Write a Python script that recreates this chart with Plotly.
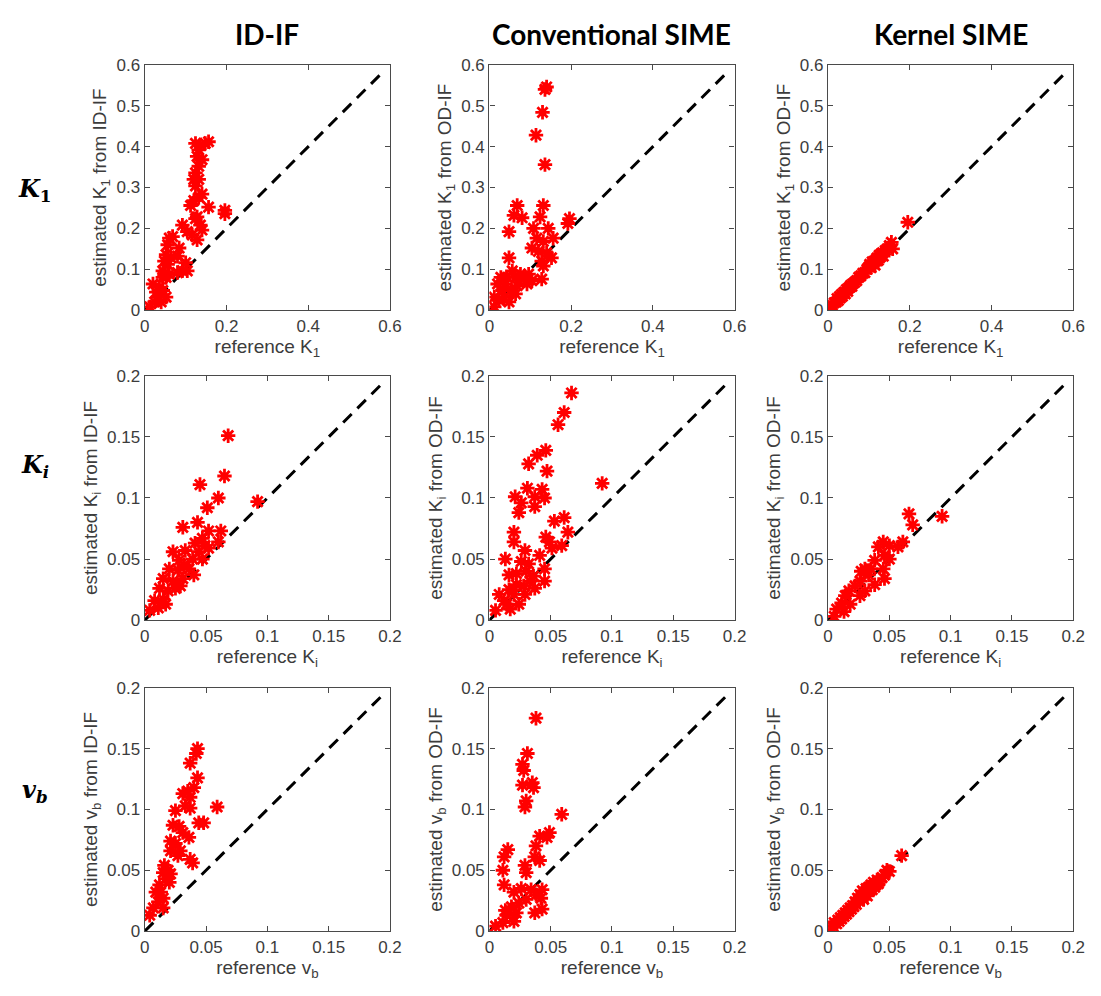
import plotly.graph_objects as go
from plotly.subplots import make_subplots

# ---- K1 (row 1) ----
idif_k1_ref = [0.012, 0.024, 0.032, 0.020, 0.036, 0.044, 0.028, 0.040, 0.052, 0.044,
               0.044, 0.048, 0.052, 0.056, 0.060, 0.068, 0.056, 0.064, 0.060, 0.052,
               0.084, 0.080, 0.080, 0.092, 0.100, 0.104, 0.092, 0.104,
               0.116, 0.128, 0.124, 0.120, 0.112, 0.132, 0.140, 0.128, 0.136, 0.140,
               0.156, 0.196, 0.196,
               0.124, 0.132, 0.124, 0.132, 0.128, 0.132, 0.124, 0.136, 0.148, 0.156,
               0.140, 0.120]
idif_k1_est = [0.008, 0.020, 0.032, 0.064, 0.056, 0.080, 0.044, 0.020, 0.032, 0.048,
               0.096, 0.120, 0.136, 0.160, 0.176, 0.180, 0.112, 0.128, 0.088, 0.080,
               0.152, 0.132, 0.092, 0.096, 0.116, 0.096, 0.208, 0.192,
               0.184, 0.172, 0.224, 0.268, 0.256, 0.276, 0.284, 0.228, 0.208, 0.196,
               0.252, 0.236, 0.244,
               0.304, 0.320, 0.336, 0.352, 0.376, 0.392, 0.408, 0.404, 0.408, 0.412,
               0.368, 0.320]

conv_k1_ref = [0.140, 0.136, 0.130, 0.114, 0.136,
               0.068, 0.132, 0.060, 0.080, 0.196, 0.192, 0.048, 0.124, 0.108, 0.144,
               0.156, 0.116, 0.132, 0.104, 0.120, 0.048, 0.152, 0.128, 0.140, 0.132,
               0.128,
               0.020, 0.032, 0.044, 0.056, 0.064, 0.076, 0.084, 0.092, 0.104, 0.096,
               0.068, 0.052, 0.036, 0.024, 0.012, 0.048, 0.064, 0.040, 0.028, 0.012]
conv_k1_est = [0.546, 0.540, 0.484, 0.428, 0.356,
               0.256, 0.256, 0.232, 0.226, 0.224, 0.212, 0.192, 0.228, 0.200, 0.200,
               0.176, 0.176, 0.168, 0.152, 0.144, 0.128, 0.128, 0.120, 0.140, 0.108,
               0.076,
               0.064, 0.048, 0.080, 0.096, 0.080, 0.088, 0.076, 0.064, 0.072, 0.088,
               0.060, 0.048, 0.032, 0.024, 0.008, 0.020, 0.040, 0.064, 0.080, 0.032]

kern_k1_ref = [0.005, 0.010, 0.015, 0.020, 0.022, 0.025, 0.028, 0.030, 0.033, 0.035,
               0.038, 0.040, 0.042, 0.045, 0.048, 0.050, 0.053, 0.055, 0.058, 0.060,
               0.065, 0.070, 0.075, 0.080, 0.085, 0.090, 0.095, 0.100, 0.102, 0.105,
               0.108, 0.110, 0.113, 0.115, 0.118, 0.120, 0.123, 0.125, 0.128, 0.130,
               0.133, 0.135, 0.140, 0.145, 0.150, 0.155, 0.158, 0.195]
kern_k1_est = [0.006, 0.012, 0.018, 0.020, 0.028, 0.024, 0.033, 0.030, 0.038, 0.034,
               0.042, 0.044, 0.040, 0.050, 0.046, 0.054, 0.056, 0.060, 0.058, 0.064,
               0.068, 0.072, 0.080, 0.084, 0.090, 0.092, 0.100, 0.106, 0.112, 0.104,
               0.118, 0.114, 0.120, 0.110, 0.124, 0.128, 0.122, 0.134, 0.130, 0.138,
               0.140, 0.132, 0.146, 0.150, 0.158, 0.166, 0.150, 0.215]

# ---- Ki (row 2) ----
idif_ki_ref = [0.068, 0.065, 0.045, 0.060, 0.051, 0.092, 0.031, 0.043, 0.052, 0.062,
               0.060, 0.047, 0.041, 0.023, 0.033, 0.044, 0.049, 0.028, 0.039, 0.020,
               0.027, 0.040, 0.015, 0.023, 0.031, 0.012, 0.019, 0.025, 0.008, 0.015,
               0.004, 0.011, 0.017, 0.036, 0.032, 0.047, 0.029, 0.052]
idif_ki_est = [0.151, 0.118, 0.111, 0.100, 0.092, 0.097, 0.076, 0.080, 0.073, 0.073,
               0.064, 0.067, 0.063, 0.056, 0.057, 0.056, 0.061, 0.049, 0.050, 0.042,
               0.041, 0.037, 0.034, 0.032, 0.034, 0.026, 0.024, 0.026, 0.016, 0.017,
               0.008, 0.010, 0.013, 0.042, 0.045, 0.050, 0.028, 0.059]

conv_ki_ref = [0.067, 0.061, 0.056, 0.046, 0.039, 0.032, 0.047, 0.092, 0.031, 0.043,
               0.037, 0.021, 0.026, 0.037, 0.045, 0.024, 0.053, 0.061, 0.064, 0.020,
               0.020, 0.046, 0.049, 0.051, 0.059, 0.029, 0.013, 0.026, 0.032, 0.041,
               0.045, 0.016, 0.022, 0.030, 0.036, 0.045, 0.008, 0.016, 0.022, 0.028,
               0.037, 0.012, 0.017, 0.024, 0.029, 0.005, 0.020, 0.014, 0.033]
conv_ki_est = [0.186, 0.170, 0.160, 0.139, 0.135, 0.128, 0.122, 0.112, 0.108, 0.107,
               0.101, 0.101, 0.096, 0.093, 0.100, 0.088, 0.081, 0.084, 0.072, 0.072,
               0.064, 0.068, 0.064, 0.059, 0.061, 0.057, 0.050, 0.048, 0.046, 0.053,
               0.042, 0.037, 0.038, 0.040, 0.036, 0.032, 0.021, 0.025, 0.029, 0.028,
               0.026, 0.016, 0.009, 0.013, 0.021, 0.008, 0.021, 0.013, 0.032]

kern_ki_ref = [0.066, 0.069, 0.093, 0.061, 0.057, 0.050, 0.045, 0.041, 0.046, 0.038,
               0.045, 0.046, 0.030, 0.027, 0.033, 0.026, 0.022, 0.030, 0.026, 0.017,
               0.014, 0.011, 0.018, 0.007, 0.005, 0.013, 0.038, 0.050, 0.035]
kern_ki_est = [0.087, 0.078, 0.085, 0.064, 0.060, 0.061, 0.064, 0.060, 0.053, 0.049,
               0.042, 0.034, 0.042, 0.040, 0.037, 0.032, 0.028, 0.024, 0.020, 0.024,
               0.020, 0.014, 0.013, 0.009, 0.003, 0.007, 0.029, 0.050, 0.042]

# ---- vb (row 3) ----
idif_vb_ref = [0.043, 0.042, 0.037, 0.043, 0.040, 0.035, 0.031, 0.037, 0.025, 0.033,
               0.037, 0.059, 0.048, 0.044, 0.023, 0.028, 0.031, 0.036, 0.021, 0.025,
               0.021, 0.027, 0.029, 0.037, 0.039, 0.016, 0.015, 0.017, 0.012, 0.009,
               0.013, 0.015, 0.011, 0.007, 0.004, 0.015, 0.020, 0.021, 0.019]
idif_vb_est = [0.150, 0.146, 0.138, 0.126, 0.118, 0.115, 0.113, 0.110, 0.099, 0.103,
               0.101, 0.102, 0.089, 0.089, 0.087, 0.086, 0.081, 0.077, 0.074, 0.072,
               0.066, 0.062, 0.066, 0.059, 0.056, 0.054, 0.048, 0.043, 0.038, 0.032,
               0.032, 0.027, 0.024, 0.019, 0.013, 0.019, 0.040, 0.047, 0.050]

conv_vb_ref = [0.038, 0.031, 0.027, 0.028, 0.027, 0.035, 0.036, 0.030, 0.029, 0.059,
               0.049, 0.047, 0.041, 0.038, 0.015, 0.012, 0.011, 0.029, 0.037, 0.041,
               0.030, 0.012, 0.020, 0.026, 0.034, 0.038, 0.042, 0.043, 0.030, 0.024,
               0.018, 0.013, 0.037, 0.043, 0.020, 0.011, 0.005, 0.014, 0.022]
conv_vb_est = [0.175, 0.146, 0.137, 0.132, 0.120, 0.122, 0.118, 0.107, 0.102, 0.096,
               0.081, 0.077, 0.078, 0.070, 0.067, 0.061, 0.050, 0.054, 0.061, 0.058,
               0.048, 0.038, 0.032, 0.035, 0.034, 0.030, 0.027, 0.034, 0.026, 0.023,
               0.020, 0.017, 0.015, 0.018, 0.008, 0.007, 0.004, 0.013, 0.015]

kern_vb_ref = [0.002, 0.004, 0.005, 0.007, 0.008, 0.009, 0.010, 0.011, 0.012, 0.013,
               0.014, 0.015, 0.016, 0.017, 0.018, 0.019, 0.020, 0.021, 0.022, 0.023,
               0.024, 0.025, 0.026, 0.027, 0.028, 0.029, 0.030, 0.031, 0.032, 0.033,
               0.034, 0.035, 0.036, 0.037, 0.038, 0.039, 0.040, 0.041, 0.042, 0.044,
               0.046, 0.048, 0.050, 0.060]
kern_vb_est = [0.003, 0.004, 0.007, 0.006, 0.009, 0.008, 0.011, 0.010, 0.013, 0.012,
               0.015, 0.014, 0.017, 0.016, 0.019, 0.018, 0.021, 0.020, 0.024, 0.022,
               0.027, 0.025, 0.030, 0.028, 0.033, 0.026, 0.032, 0.035, 0.029, 0.036,
               0.033, 0.038, 0.034, 0.040, 0.036, 0.038, 0.042, 0.039, 0.041, 0.044,
               0.046, 0.050, 0.049, 0.062]

column_titles = ["ID-IF", "Conventional SIME", "Kernel SIME"]
row_labels = ["<b><i>K</i><sub>1</sub></b>", "<b><i>K<sub>i</sub></i></b>", "<b><i>v<sub>b</sub></i></b>"]
param_html = ["K<sub>1</sub>", "K<sub>i</sub>", "v<sub>b</sub>"]
source_names = ["ID-IF", "OD-IF", "OD-IF"]
axis_max = [0.6, 0.2, 0.2]
x_ticks = [[0, 0.2, 0.4, 0.6], [0, 0.05, 0.1, 0.15, 0.2], [0, 0.05, 0.1, 0.15, 0.2]]
y_ticks = [[0, 0.1, 0.2, 0.3, 0.4, 0.5, 0.6], [0, 0.05, 0.1, 0.15, 0.2], [0, 0.05, 0.1, 0.15, 0.2]]
line_end = [0.585, 0.195, 0.195]

panels = [
    [(idif_k1_ref, idif_k1_est), (conv_k1_ref, conv_k1_est), (kern_k1_ref, kern_k1_est)],
    [(idif_ki_ref, idif_ki_est), (conv_ki_ref, conv_ki_est), (kern_ki_ref, kern_ki_est)],
    [(idif_vb_ref, idif_vb_est), (conv_vb_ref, conv_vb_est), (kern_vb_ref, kern_vb_est)],
]

W, H = 1101, 996
col_px = [(142, 391), (492, 741), (836, 1085)]
row_px = [(57, 307), (374, 623), (692, 940)]

fig = make_subplots(rows=3, cols=3)

AXIS_COLOR = "#4a4a4a"
TEXT_COLOR = "#3c3c3c"
tick_font = dict(family="Liberation Sans, Arial, sans-serif", size=17, color=TEXT_COLOR)
title_font = dict(family="Liberation Sans, Arial, sans-serif", size=19, color=TEXT_COLOR)

def fmt(v):
    return "0" if v == 0 else ("%g" % v)

for r in range(3):
    for c in range(3):
        ref, est = panels[r][c]
        m = axis_max[r]
        fig.add_trace(go.Scatter(
            x=[0, line_end[r]], y=[0, line_end[r]], mode="lines",
            line=dict(color="black", width=3, dash="12px,8px"),
            hoverinfo="skip", showlegend=False), row=r + 1, col=c + 1)
        fig.add_trace(go.Scatter(
            x=ref, y=est, mode="markers",
            marker=dict(symbol="asterisk-open", size=12, color="red",
                        line=dict(color="red", width=2.8)),
            showlegend=False), row=r + 1, col=c + 1)
        x0, x1 = col_px[c]
        y0, y1 = row_px[r]
        common = dict(showline=True, mirror="ticks", linecolor=AXIS_COLOR, linewidth=1.4,
                      ticks="inside", ticklen=5, tickcolor=AXIS_COLOR, tickwidth=1,
                      showgrid=False, zeroline=False, tickfont=tick_font,
                      range=[0, m], fixedrange=True)
        fig.update_xaxes(domain=[x0 / W, x1 / W],
                         tickvals=x_ticks[r], ticktext=[fmt(v) for v in x_ticks[r]],
                         title=dict(text="reference " + param_html[r], font=title_font, standoff=2),
                         **common, row=r + 1, col=c + 1)
        fig.update_yaxes(domain=[1 - y1 / H, 1 - y0 / H],
                         tickvals=y_ticks[r], ticktext=[fmt(v) for v in y_ticks[r]],
                         title=dict(text="estimated " + param_html[r] + " from " + source_names[c],
                                    font=title_font, standoff=4),
                         **common, row=r + 1, col=c + 1)

annotations = []
for c, t in enumerate(column_titles):
    x0, x1 = col_px[c]
    annotations.append(dict(text="<b>" + t + "</b>", x=(x0 + x1) / 2 / W, y=1 - 25 / H,
                            xref="paper", yref="paper", showarrow=False,
                            xanchor="center", yanchor="middle",
                            font=dict(family="Lato, Open Sans, sans-serif", size=28, color="black")))
row_label_y = [185, 466, 797]
for r, t in enumerate(row_labels):
    annotations.append(dict(text=t, x=30 / W, y=1 - row_label_y[r] / H,
                            xref="paper", yref="paper", showarrow=False,
                            xanchor="center", yanchor="middle",
                            font=dict(family="DejaVu Serif, serif", size=24, color="black")))

fig.update_layout(width=W, height=H, margin=dict(l=0, r=0, t=0, b=0),
                  paper_bgcolor="white", plot_bgcolor="white",
                  annotations=annotations, showlegend=False)

fig.write_html("out.html")
